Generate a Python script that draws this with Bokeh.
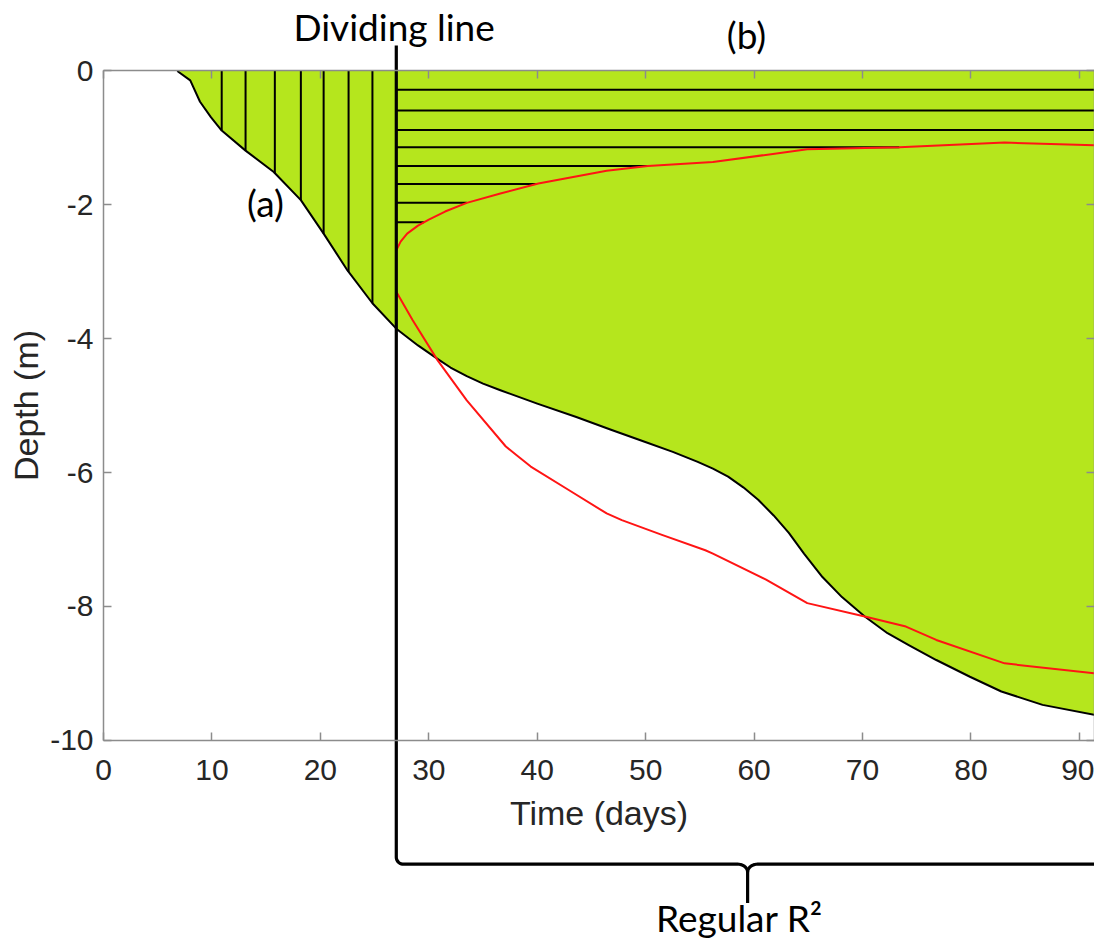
import numpy as np
from bokeh.plotting import figure
from bokeh.models import Range1d, LinearAxis, FixedTicker
from bokeh.core.properties import value
from bokeh.embed import file_html
from bokeh.resources import INLINE

# ---------------- data ----------------
x_ticks = [0, 10, 20, 30, 40, 50, 60, 70, 80, 90]
x_tick_labels = ["0", "10", "20", "30", "40", "50", "60", "70", "80", "90"]
y_ticks = [-10, -8, -6, -4, -2, 0]
y_tick_labels = ["-10", "-8", "-6", "-4", "-2", "0"]

# lower boundary of the green region (black curve)
bound_day = [6.8, 8.0, 8.9, 9.9, 10.9, 13.1, 15.7, 18.2, 20.3, 22.5, 24.8, 27.0,
             29.0, 30.8, 32.0, 33.5, 35.0, 36.6, 40.0, 43.6, 46.8, 49.9, 52.5,
             54.8, 56.2, 57.6, 59.0, 60.4, 61.8, 63.2, 64.6, 66.3, 68.1, 70.2,
             72.3, 74.3, 76.8, 79.9, 82.8, 86.6, 91.4]
bound_depth = [0.0, -0.14, -0.46, -0.69, -0.89, -1.19, -1.51, -1.93, -2.43, -2.98,
               -3.47, -3.85, -4.10, -4.30, -4.43, -4.56, -4.67, -4.77, -4.97,
               -5.17, -5.36, -5.54, -5.69, -5.84, -5.94, -6.06, -6.22, -6.41,
               -6.64, -6.90, -7.21, -7.56, -7.86, -8.15, -8.40, -8.58, -8.80,
               -9.05, -9.27, -9.47, -9.62]

# upper red curve
red_up_day = [27.0, 27.4, 28.0, 29.0, 30.0, 31.5, 33.5, 36.6, 40.1, 46.4, 50.2,
              56.2, 64.9, 73.4, 83.1, 91.4]
red_up_depth = [-2.68, -2.55, -2.43, -2.31, -2.22, -2.10, -1.97, -1.83, -1.68,
                -1.49, -1.42, -1.36, -1.17, -1.14, -1.07, -1.11]

# lower red curve
red_lo_day = [27.0, 28.5, 30.8, 33.5, 37.1, 38.1, 39.4, 42.9, 46.4, 47.8, 51.5,
              55.5, 56.2, 61.1, 64.9, 70.2, 74.0, 76.8, 83.1, 91.4]
red_lo_depth = [-3.30, -3.72, -4.32, -4.92, -5.61, -5.74, -5.91, -6.26, -6.61,
                -6.71, -6.93, -7.16, -7.21, -7.60, -7.95, -8.15, -8.30, -8.50,
                -8.85, -9.00]

# hatching of region (a): vertical lines (days)
hatch_a_days = [10.9, 13.1, 15.8, 18.2, 20.3, 22.6, 24.8]
# hatching of region (b): horizontal lines (depths)
hatch_b_depths = [-0.28, -0.59, -0.88, -1.14, -1.42, -1.69, -1.97, -2.26]

# annotation texts
note_t = ["Dividing line", "(b)", "(a)", "Regular R\u00b2"]
note_x = [26.8, 59.3, 14.94, 58.65]
note_y = [0.67, 0.55, -1.96, -12.64]

DIV_DAY = 27.0          # dividing line
DIV_TOP = 0.38
BRACE_Y = -11.85
BRACE_TIP = -12.43
BRACE_MID = 59.4

X_START, X_END = -9.50, 91.39
Y_START, Y_END = -13.08, 1.053

GREEN = "#b5e61d"
RED = "#ff1414"
AXIS_GRAY = "#8c8c8c"
TEXT_DARK = "#262626"

# ---------------- figure ----------------
p = figure(width=1094, height=946,
           x_range=Range1d(X_START, X_END), y_range=Range1d(Y_START, Y_END),
           output_backend="svg", toolbar_location=None,
           x_axis_location=None, y_axis_location=None,
           min_border=0, outline_line_color=None)
p.xgrid.grid_line_color = None
p.ygrid.grid_line_color = None
p.background_fill_color = "white"


def make_axis(loc, bounds, ticks, tick_labels, label="", show_labels=True):
    ax = LinearAxis(fixed_location=loc, bounds=bounds,
                    ticker=FixedTicker(ticks=ticks),
                    major_label_overrides={t: s for t, s in zip(ticks, tick_labels)},
                    axis_label=label,
                    axis_line_color=AXIS_GRAY, axis_line_width=1.5,
                    major_tick_line_color=AXIS_GRAY, major_tick_line_width=1.5,
                    major_tick_in=8, major_tick_out=0,
                    minor_tick_in=0, minor_tick_out=0,
                    major_label_text_font="Liberation Sans",
                    major_label_text_font_size="30px",
                    major_label_text_color=TEXT_DARK if show_labels else None,
                    axis_label_text_font="Liberation Sans",
                    axis_label_text_font_size="34px",
                    axis_label_text_font_style="normal",
                    axis_label_text_color=TEXT_DARK)
    return ax


ax_b = make_axis(-10, (0, X_END), x_ticks, x_tick_labels, "Time (days)")
ax_b.major_label_standoff = 20
ax_b.axis_label_standoff = 10
p.add_layout(ax_b, "below")

ax_l = make_axis(0, (-10, 0), y_ticks, y_tick_labels, "Depth (m)")
ax_l.major_label_standoff = 10
ax_l.axis_label_standoff = 2
p.add_layout(ax_l, "left")

ax_t = make_axis(0, (0, X_END), x_ticks, x_tick_labels, show_labels=False)
p.add_layout(ax_t, "above")

ax_r = make_axis(X_END, (-10, 0), y_ticks, y_tick_labels, show_labels=False)
p.add_layout(ax_r, "right")

# ---------------- green region ----------------
p.varea(x=bound_day, y1=[0.0] * len(bound_day), y2=bound_depth,
        fill_color=GREEN, fill_alpha=1.0)

# hatching (a): vertical lines from surface to the boundary curve
a_bottom = np.interp(hatch_a_days, bound_day, bound_depth)
p.multi_line(xs=[[d, d] for d in hatch_a_days],
             ys=[[0.0, b] for b in a_bottom],
             line_color="black", line_width=2)

# hatching (b): horizontal lines from dividing line to the upper red curve
peak = int(np.argmax(red_up_depth))
up_d = np.array(red_up_depth[:peak + 1])
up_x = np.array(red_up_day[:peak + 1])
b_right = [X_END if d > up_d.max() else float(np.interp(d, up_d, up_x))
           for d in hatch_b_depths]
p.multi_line(xs=[[DIV_DAY, r] for r in b_right],
             ys=[[d, d] for d in hatch_b_depths],
             line_color="black", line_width=2)

# boundary curve
p.line(bound_day, bound_depth, line_color="black", line_width=2, line_join="round")

# red curves
p.line(red_up_day, red_up_depth, line_color=RED, line_width=2, line_join="round")
p.line(red_lo_day, red_lo_depth, line_color=RED, line_width=2, line_join="round")

# ---------------- dividing line + brace ----------------
px_day = (X_END - X_START) / 1094.0
px_dep = (Y_END - Y_START) / 946.0
rc_x, rc_y = 7 * px_day, 7 * px_dep
rb_x, rb_y = 10 * px_day, 8 * px_dep
t = np.linspace(0, np.pi / 2, 12)

corner_x = (DIV_DAY + rc_x) - rc_x * np.cos(t)
corner_y = (BRACE_Y + rc_y) - rc_y * np.sin(t)
cuspL_x = (BRACE_MID - rb_x) + rb_x * np.sin(t)
cuspL_y = (BRACE_Y - rb_y) + rb_y * np.cos(t)
cuspR_x = (BRACE_MID + rb_x) - rb_x * np.sin(t)
cuspR_y = (BRACE_Y - rb_y) + rb_y * np.cos(t)

left_x = [DIV_DAY] + list(corner_x) + list(cuspL_x) + [BRACE_MID]
left_y = [DIV_TOP] + list(corner_y) + list(cuspL_y) + [BRACE_TIP]
right_x = [X_END + 1] + list(cuspR_x)
right_y = [BRACE_Y] + list(cuspR_y)

p.line(left_x, left_y, line_color="black", line_width=3.2, line_join="round")
p.line(right_x, right_y, line_color="black", line_width=3.2, line_join="round")

# ---------------- annotation texts ----------------
p.text(x=note_x, y=note_y, text=note_t,
       text_font=value("Lato"), text_font_size="37px",
       text_color="black", text_align="center", text_baseline="alphabetic")

open("out.html", "w").write(file_html(p, INLINE))
